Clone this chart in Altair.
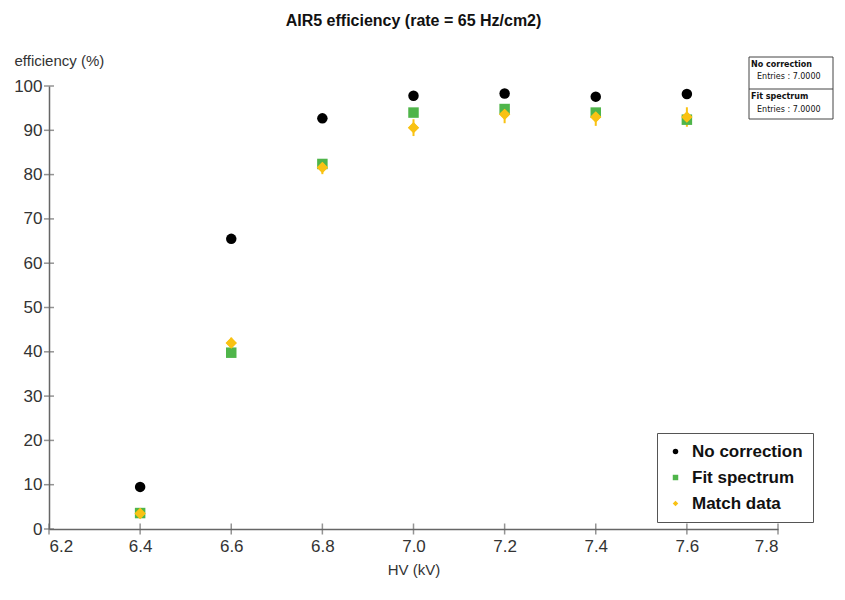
import altair as alt
import pandas as pd

hv = [6.4, 6.6, 6.8, 7.0, 7.2, 7.4, 7.6]
no_corr = [9.5, 65.5, 92.7, 97.8, 98.3, 97.6, 98.2]
fit_spec = [3.6, 39.8, 82.4, 94.0, 94.8, 94.0, 92.4]
match_data = [3.5, 42.0, 81.6, 90.6, 93.6, 93.0, 93.0]
match_err = [0.8, 1.2, 1.5, 1.9, 2.0, 2.0, 2.2]

series_names = ["No correction", "Fit spectrum", "Match data"]
series_colors = ["#000000", "#4fb54a", "#f9c213"]
series_shapes = ["circle", "square", "diamond"]

x_ticks = [6.2, 6.4, 6.6, 6.8, 7.0, 7.2, 7.4, 7.6, 7.8]
y_ticks = [0, 10, 20, 30, 40, 50, 60, 70, 80, 90, 100]

rows = []
for name, vals in zip(series_names, [no_corr, fit_spec, match_data]):
    for h, v in zip(hv, vals):
        rows.append({"hv": h, "eff": v, "series": name})
df = pd.DataFrame(rows)
match_df = pd.DataFrame({"hv": hv, "eff": match_data})
err_df = pd.DataFrame({"hv": hv, "lo": [v - e for v, e in zip(match_data, match_err)],
                       "hi": [v + e for v, e in zip(match_data, match_err)]})
xt = pd.DataFrame({"v": x_ticks})
yt = pd.DataFrame({"v": y_ticks})

FONT = "Liberation Sans"
xscale = alt.Scale(domain=[6.2, 7.8], nice=False, zero=False)
yscale = alt.Scale(domain=[0, 100], nice=False)

xaxis = alt.Axis(values=x_ticks, format=".1f", ticks=False, grid=False,
                 labelFontSize=17, labelColor="#333", labelPadding=9,
                 domainColor="#666", domainWidth=1.5,
                 title="HV (kV)", titleFontSize=15, titleFontWeight="normal",
                 titleColor="#333", titlePadding=8, labelFont=FONT, titleFont=FONT)
yaxis = alt.Axis(values=y_ticks, ticks=False, grid=False,
                 labelFontSize=17, labelColor="#333", labelPadding=7,
                 domainColor="#666", domainWidth=1.5,
                 title="efficiency (%)", titleFontSize=15, titleFontWeight="normal",
                 titleColor="#333", titleAngle=0, titleAlign="left", titleBaseline="middle",
                 titleX=-35, titleY=-26, labelFont=FONT, titleFont=FONT)

errbars = alt.Chart(err_df).mark_rule(color="#f9c213", strokeWidth=2).encode(
    x=alt.X("hv:Q", scale=xscale, axis=xaxis),
    y=alt.Y("lo:Q", scale=yscale, axis=yaxis),
    y2="hi:Q",
)

points = alt.Chart(df).mark_point(filled=True, size=110, opacity=1).encode(
    x=alt.X("hv:Q", scale=xscale),
    y=alt.Y("eff:Q", scale=yscale),
    color=alt.Color("series:N", sort=series_names,
                    scale=alt.Scale(domain=series_names, range=series_colors),
                    legend=alt.Legend(title=None, orient="none", legendX=608, legendY=347,
                                      labelFontSize=17, labelFontWeight="bold", labelFont=FONT,
                                      labelColor="#111", symbolSize=30, rowPadding=8,
                                      padding=10, strokeColor="#555", fillColor="white",
                                      symbolStrokeWidth=0, labelOffset=8)),
    shape=alt.Shape("series:N", sort=series_names,
                    scale=alt.Scale(domain=series_names, range=series_shapes)),
    order=alt.Order("ord:Q"),
).transform_calculate(ord="indexof(['No correction','Fit spectrum','Match data'], datum.series)")

match_pts = alt.Chart(match_df).mark_point(filled=True, size=130, opacity=1,
                                           shape="diamond", color="#f9c213").encode(
    x=alt.X("hv:Q", scale=xscale), y=alt.Y("eff:Q", scale=yscale))

xticks = alt.Chart(xt).mark_tick(orient="vertical", size=11, thickness=1.5, color="#666").encode(
    x=alt.X("v:Q", scale=xscale), y=alt.datum(0))
yticks = alt.Chart(yt).mark_tick(orient="horizontal", size=10, thickness=1.5, color="#666").encode(
    y=alt.Y("v:Q", scale=yscale), x=alt.datum(6.2))

stat_box = alt.Chart(pd.DataFrame({"a": [0]})).mark_rect(
    fill="white", stroke="#444", strokeWidth=1).encode(
    x=alt.value(700), x2=alt.value(784), y=alt.value(-29), y2=alt.value(33))
stat_div = alt.Chart(pd.DataFrame({"a": [0]})).mark_rule(color="#444", strokeWidth=1).encode(
    x=alt.value(700), x2=alt.value(784), y=alt.value(3))
stat_lines = ["No correction", "Entries : 7.0000", "Fit spectrum", "Entries : 7.0000"]
stat_txt = []
for i, (t, yy, xx) in enumerate(zip(stat_lines, [-21, -9, 11, 24], [702, 708, 702, 708])):
    stat_txt.append(alt.Chart(pd.DataFrame({"t": [t]})).mark_text(
        align="left", baseline="middle", fontSize=8, font="DejaVu Sans",
        fontWeight="bold" if i % 2 == 0 else "normal", color="#111").encode(
        text="t:N", x=alt.value(xx), y=alt.value(yy)))

chart = alt.layer(errbars, xticks, yticks, points, match_pts, stat_box, stat_div, *stat_txt).properties(
    width=729, height=443,
    autosize=alt.AutoSizeParams(type="none"),
    padding={"left": 41, "top": 78, "right": 59, "bottom": 63},
    title=alt.Title("AIR5 efficiency (rate = 65 Hz/cm2)", fontSize=16, fontWeight="bold",
                    font=FONT, color="#111", offset=24, anchor="middle"),
).configure_view(stroke=None).resolve_scale(color="shared", shape="shared")

chart.save("out.html", embed_options={"renderer": "svg", "actions": False})
